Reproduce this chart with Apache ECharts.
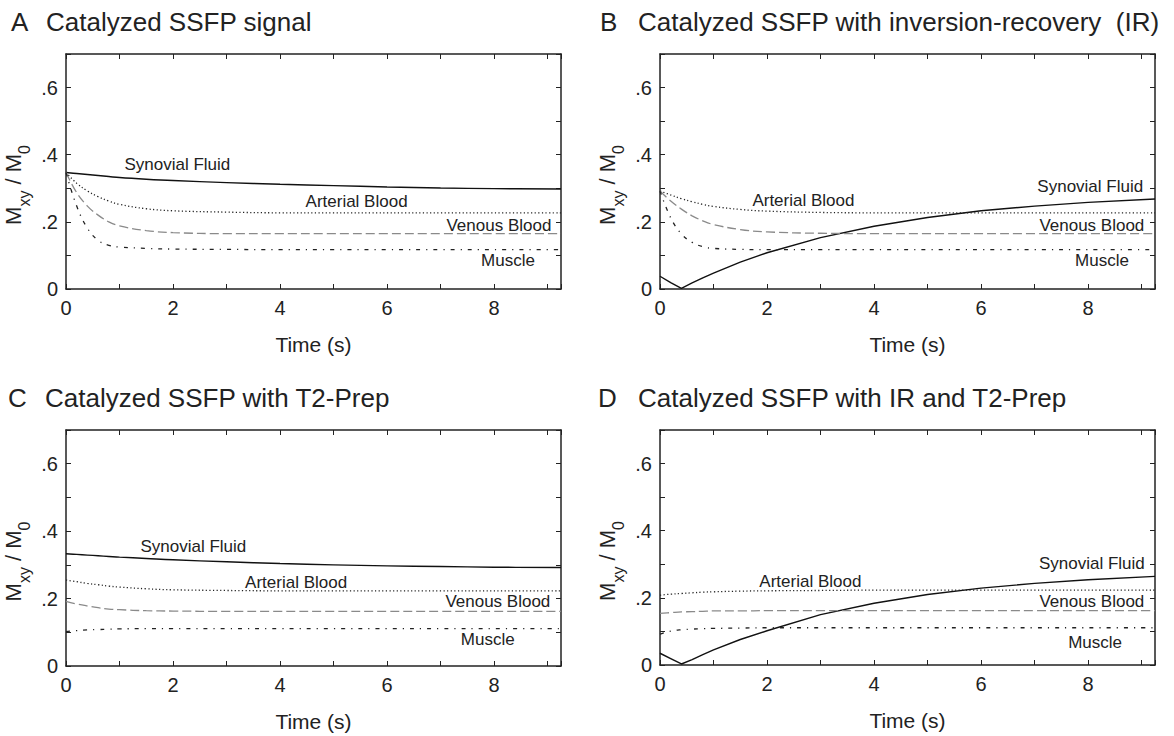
<!DOCTYPE html>
<html>
<head>
<meta charset="utf-8">
<script src="https://cdn.jsdelivr.net/npm/echarts@6/dist/echarts.min.js"></script>
<style>
  html, body { margin: 0; padding: 0; background: #fff; }
  #chart { width: 1174px; height: 736px; }
</style>
</head>
<body>
<div id="chart"></div>
<script>
// sample times (s), shared by every curve
const times = [0, 0.2, 0.4, 0.6, 0.8, 1, 1.5, 2, 3, 4, 5, 6, 7, 8, 9.25];

// A - catalyzed SSFP
const synovialA = [0.347, 0.344, 0.341, 0.338, 0.335, 0.332, 0.327, 0.323, 0.317, 0.312, 0.308, 0.304, 0.301, 0.299, 0.298];
const arterialA = [0.347, 0.315, 0.292, 0.275, 0.262, 0.252, 0.239, 0.233, 0.229, 0.227, 0.227, 0.227, 0.227, 0.227, 0.227];
const venousA   = [0.347, 0.287, 0.247, 0.220, 0.200, 0.188, 0.174, 0.168, 0.165, 0.165, 0.165, 0.165, 0.165, 0.165, 0.165];
const muscleA   = [0.347, 0.247, 0.181, 0.145, 0.130, 0.125, 0.121, 0.119, 0.118, 0.117, 0.117, 0.117, 0.117, 0.117, 0.117];

// B - with inversion recovery
const synovialB = [0.038, 0.019, 0.002, 0.018, 0.033, 0.047, 0.080, 0.108, 0.153, 0.187, 0.213, 0.233, 0.247, 0.258, 0.268];
const arterialB = [0.292, 0.280, 0.269, 0.260, 0.252, 0.246, 0.237, 0.232, 0.228, 0.227, 0.227, 0.227, 0.227, 0.227, 0.227];
const venousB   = [0.292, 0.262, 0.238, 0.218, 0.203, 0.192, 0.177, 0.170, 0.166, 0.165, 0.165, 0.165, 0.165, 0.165, 0.165];
const muscleB   = [0.292, 0.212, 0.164, 0.139, 0.126, 0.121, 0.118, 0.117, 0.117, 0.117, 0.117, 0.117, 0.117, 0.117, 0.117];

// C - with T2-prep
const synovialC = [0.333, 0.331, 0.329, 0.327, 0.325, 0.323, 0.319, 0.315, 0.309, 0.304, 0.300, 0.297, 0.295, 0.293, 0.292];
const arterialC = [0.255, 0.250, 0.245, 0.241, 0.237, 0.234, 0.229, 0.226, 0.224, 0.223, 0.223, 0.223, 0.223, 0.223, 0.223];
const venousC   = [0.192, 0.184, 0.178, 0.173, 0.169, 0.167, 0.164, 0.163, 0.162, 0.162, 0.162, 0.162, 0.162, 0.162, 0.162];
const muscleC   = [0.102, 0.105, 0.107, 0.108, 0.109, 0.110, 0.111, 0.111, 0.111, 0.111, 0.111, 0.111, 0.111, 0.111, 0.111];

// D - with IR and T2-prep
const synovialD = [0.035, 0.019, 0.003, 0.016, 0.031, 0.045, 0.076, 0.102, 0.150, 0.184, 0.210, 0.229, 0.243, 0.254, 0.264];
const arterialD = [0.208, 0.211, 0.213, 0.215, 0.217, 0.218, 0.220, 0.221, 0.222, 0.223, 0.223, 0.223, 0.223, 0.223, 0.223];
const venousD   = [0.154, 0.156, 0.158, 0.159, 0.160, 0.161, 0.161, 0.162, 0.162, 0.162, 0.162, 0.162, 0.162, 0.162, 0.162];
const muscleD   = [0.092, 0.101, 0.105, 0.107, 0.108, 0.109, 0.110, 0.111, 0.111, 0.111, 0.111, 0.111, 0.111, 0.111, 0.111];

const tissues = ["Synovial Fluid", "Arterial Blood", "Venous Blood", "Muscle"];
const letters = ["A", "B", "C", "D"];
const titles = [
  "Catalyzed SSFP signal",
  "Catalyzed SSFP with inversion-recovery  (IR)",
  "Catalyzed SSFP with T2-Prep",
  "Catalyzed SSFP with IR and T2-Prep",
];
const xTicks = [0, 2, 4, 6, 8];
const yTicks = [0, 0.2, 0.4, 0.6];

const panels = [
  [synovialA, arterialA, venousA, muscleA],
  [synovialB, arterialB, venousB, muscleB],
  [synovialC, arterialC, venousC, muscleC],
  [synovialD, arterialD, venousD, muscleD],
];

const FONT = "'Liberation Sans', Arial, sans-serif";
const INK = "#222";

// layout of the 4 boxes
const grids = [
  { left: 66, top: 54, width: 495, height: 235 },
  { left: 660, top: 54, width: 495, height: 235 },
  { left: 66, top: 430, width: 495, height: 236 },
  { left: 660, top: 430, width: 495, height: 235 },
];
const titlePos = [
  { letter: 11, text: 46, top: 9 },
  { letter: 600, text: 638, top: 9 },
  { letter: 8, text: 45, top: 385 },
  { letter: 598, text: 638, top: 385 },
];
// where the tissue names sit (data coords)
const labelAt = [
  [[2.08, 0.372], [5.43, 0.260], [8.09, 0.188], [8.26, 0.085]],
  [[8.04, 0.305], [2.68, 0.265], [8.07, 0.188], [8.26, 0.085]],
  [[2.38, 0.353], [4.30, 0.248], [8.07, 0.190], [7.88, 0.078]],
  [[8.07, 0.302], [2.81, 0.248], [8.07, 0.188], [8.13, 0.068]],
];
const lineStyles = [
  { color: "#111", width: 1.4, type: "solid" },
  { color: "#222", width: 1.3, type: [1.2, 2.4] },
  { color: "#8a8a8a", width: 1.3, type: [9, 4] },
  { color: "#222", width: 1.3, type: [4, 6, 1.2, 6] },
];

const chart = echarts.init(document.getElementById("chart"), null, { renderer: "svg" });

const axisLine = { onZero: false, lineStyle: { color: INK, width: 1.5 } };
const axisTick = { inside: true, length: 5, lineStyle: { color: INK, width: 1 } };

const title = [];
const xAxis = [];
const yAxis = [];
const series = [];

panels.forEach((curves, i) => {
  const ts = { fontSize: 26, fontWeight: "normal", color: INK, fontFamily: FONT };
  title.push({ text: letters[i], left: titlePos[i].letter, top: titlePos[i].top, padding: 0, textStyle: ts });
  title.push({ text: titles[i], left: titlePos[i].text, top: titlePos[i].top, padding: 0, textStyle: ts });

  xAxis.push({
    type: "value", gridIndex: i, position: "bottom", min: 0, max: 9.25, interval: 1,
    axisLine, axisTick, splitLine: { show: false },
    axisLabel: {
      color: INK, fontSize: 20, fontFamily: FONT, margin: 9,
      formatter: (v) => (xTicks.includes(v) ? String(v) : ""),
    },
    name: "Time (s)", nameLocation: "middle", nameGap: 45,
    nameTextStyle: { color: INK, fontSize: 21, fontFamily: FONT },
  });
  xAxis.push({
    type: "value", gridIndex: i, position: "top", min: 0, max: 9.25, interval: 1,
    axisLine, axisTick, splitLine: { show: false }, axisLabel: { show: false },
  });
  yAxis.push({
    type: "value", gridIndex: i, position: "left", min: 0, max: 0.7, interval: 0.1,
    axisLine, axisTick, splitLine: { show: false },
    axisLabel: {
      color: INK, fontSize: 20, fontFamily: FONT, margin: 8,
      formatter: (v) => {
        const k = Math.round(v * 10);
        if (!yTicks.some((t) => Math.round(t * 10) === k)) return "";
        return k === 0 ? "0" : "." + k;
      },
    },
    name: "{m|M}{s|xy}{m| / M}{s|0}", nameLocation: "middle", nameRotate: 90, nameGap: 34,
    nameTextStyle: {
      color: INK, fontFamily: FONT, padding: [0, 27, 0, 0],
      rich: {
        m: { fontSize: 22, lineHeight: 30, verticalAlign: "top", color: INK, fontFamily: FONT },
        s: { fontSize: 16, lineHeight: 16, verticalAlign: "bottom", color: INK, fontFamily: FONT },
      },
    },
  });
  yAxis.push({
    type: "value", gridIndex: i, position: "right", min: 0, max: 0.7, interval: 0.1,
    axisLine, axisTick, splitLine: { show: false }, axisLabel: { show: false },
  });

  curves.forEach((vals, j) => {
    // IR curves have a sharp kink at the null point, keep them unsmoothed
    const kinked = j === 0 && (i === 1 || i === 3);
    series.push({
      type: "line", name: tissues[j],
      xAxisIndex: 2 * i, yAxisIndex: 2 * i,
      data: times.map((t, k) => [t, vals[k]]),
      showSymbol: false, symbol: "none",
      smooth: kinked ? false : 0.4,
      lineStyle: lineStyles[j],
      silent: true,
      markPoint: {
        symbol: "circle", symbolSize: 1, silent: true,
        itemStyle: { color: "rgba(0,0,0,0)" },
        label: { show: true, position: "inside", formatter: tissues[j], color: INK, fontSize: 17, fontFamily: FONT },
        data: [{ coord: labelAt[i][j] }],
      },
    });
  });
});

chart.setOption({
  animation: false,
  backgroundColor: "#fff",
  textStyle: { fontFamily: FONT },
  title,
  grid: grids,
  xAxis,
  yAxis,
  series,
});

window.addEventListener("resize", () => chart.resize());
</script>
</body>
</html>
